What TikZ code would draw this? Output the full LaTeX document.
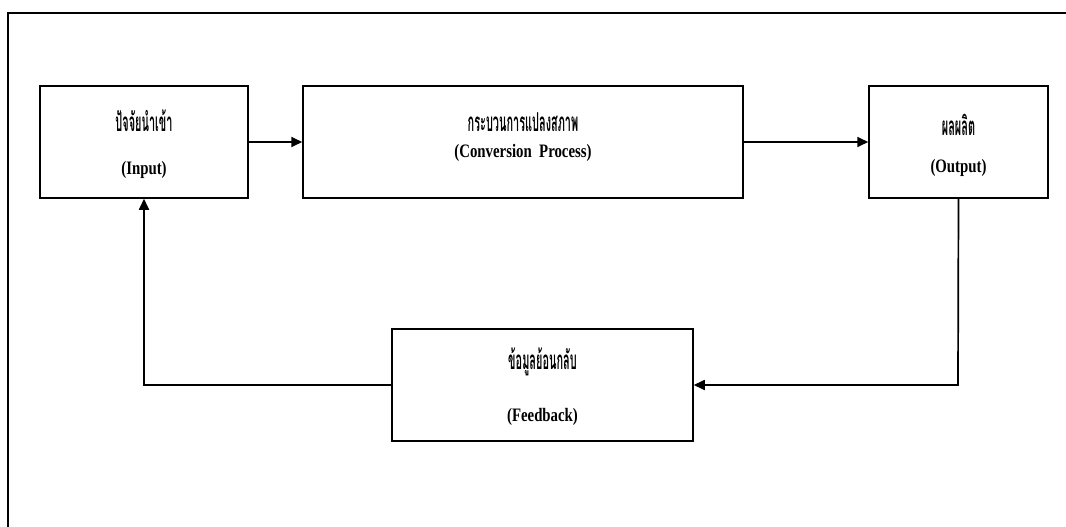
\documentclass[tikz,border=0pt]{standalone}
\usepackage{fontspec}
\setmainfont{Liberation Serif}[FakeStretch=0.78]
\newfontfamily\thaifont[Script=Thai,FakeStretch=0.42]{Loma}
\usetikzlibrary{arrows.meta}
\begin{document}
\begin{tikzpicture}[x=1pt,y=-1pt,
  box/.style={draw,line width=1.5pt,rectangle,inner sep=0pt,minimum height=112pt},
  th/.style={font=\thaifont\bfseries\fontsize{26}{30}\selectfont,inner sep=0pt},
  en/.style={font=\bfseries\fontsize{19}{22}\selectfont,inner sep=0pt},
  conn/.style={line width=1.7pt,-{Triangle[length=11pt,width=10pt]}}]
\useasboundingbox (0,0) rectangle (1066,527);
\draw[line width=1.8pt] (8,527) -- (8,13) -- (1066,13);
\node[box,minimum width=208pt] (in) at (144,142) {};
\node[box,minimum width=440pt] (proc) at (523,142) {};
\node[box,minimum width=179pt] (out) at (958.5,142) {};
\node[box,minimum width=301pt] (fb) at (542.5,385) {};
\node[th] (inth) at (144,121) {ปัจจัยนำเข้า};
\node[en] (inen) at (144,170) {(Input)};
\node[th] (procth) at (523,122) {กระบวนการแปลงสภาพ};
\node[en] (procen) at (523,153) {(Conversion\ \ Process)};
\node[th] (outth) at (958.5,125) {ผลผลิต};
\node[en] (outen) at (958.5,168) {(Output)};
\node[th] (fbth) at (542.5,362) {ข้อมูลย้อนกลับ};
\node[en] (fben) at (542.5,417) {(Feedback)};
\coordinate (c1) at (958,385);
\coordinate (c2) at (144,385);
\draw[conn] (in.east) -- (proc.west);
\draw[conn] (proc.east) -- (out.west);
\draw[conn] (out.south) -- (c1) -- (fb.east);
\draw[conn] (fb.west) -- (c2) -- (in.south);
\end{tikzpicture}
\end{document}
